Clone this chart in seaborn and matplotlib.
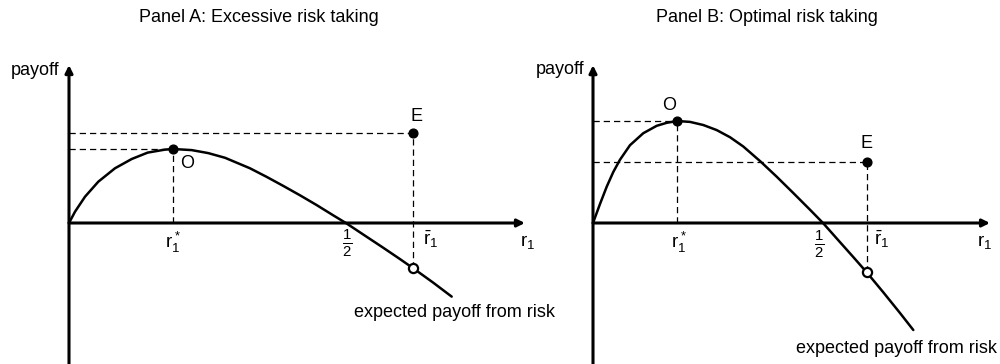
import matplotlib
matplotlib.use('Agg')
import matplotlib.pyplot as plt
import seaborn as sns

# Panel A: curve points (r1, payoff)
a_r = [0, 0.0108, 0.0288, 0.0527, 0.0827, 0.1128, 0.1415, 0.1727, 0.1876, 0.2207, 0.2505, 0.2806,
       0.3255, 0.3556, 0.3854, 0.4155, 0.4455, 0.4754, 0.498, 0.5354, 0.5653, 0.5953, 0.6192, 0.6552, 0.6883]
a_payoff = [0, 0.0203, 0.0473, 0.0743, 0.0984, 0.1151, 0.1266, 0.1320, 0.1331, 0.1311, 0.1257, 0.1173,
            0.0984, 0.0829, 0.0667, 0.0498, 0.0322, 0.0137, 0, -0.0248, -0.0446, -0.0649, -0.0815, -0.1074, -0.1324]
a_opt = [0.1876, 0.1331]    # point O
a_exc = [0.6192, 0.1619]    # point E
a_exc_true = -0.0815        # expected payoff at r1 bar

# Panel B
b_r = [0, 0.0152, 0.0298, 0.0441, 0.0587, 0.0804, 0.1093, 0.1385, 0.1602, 0.1833, 0.2109, 0.2398, 0.2689,
       0.2978, 0.3267, 0.3646, 0.3993, 0.4354, 0.4717, 0.5, 0.5370, 0.5659, 0.5950, 0.6311, 0.6674, 0.6963]
b_payoff = [0, 0.0413, 0.0789, 0.1109, 0.1376, 0.1691, 0.1952, 0.2113, 0.2178, 0.2217, 0.2198, 0.2130, 0.2020,
            0.1865, 0.1663, 0.1333, 0.1007, 0.0652, 0.0289, 0, -0.0417, -0.0741, -0.1072, -0.1507, -0.1957, -0.2326]
b_opt = [0.1833, 0.2217]
b_exc = [0.5950, 0.1333]
b_exc_true = -0.1072

half = 0.5
titles = ['Panel A: Excessive risk taking', 'Panel B: Optimal risk taking']
curve_label = 'expected payoff from risk'

sns.set_theme(style='white')
plt.rcParams['font.family'] = ['Liberation Sans', 'DejaVu Sans']
plt.rcParams['mathtext.fontset'] = 'custom'
plt.rcParams['mathtext.rm'] = 'Liberation Sans'
plt.rcParams['mathtext.it'] = 'Liberation Sans'
plt.rcParams['mathtext.bf'] = 'Liberation Sans:bold'

FS = 13
INK = 'black'
DASH = dict(color=INK, lw=0.9, ls=(0, (5, 3.2)), zorder=1)


def draw_panel(ax, r, payoff, opt, exc, exc_true, lay):
    """
    Draw one panel
    """
    ax.set_xlim(lay['xlim'])
    ax.set_ylim(lay['ylim'])
    ax.axis('off')

    # axes with arrows
    arrow = dict(arrowstyle='-|>', color=INK, lw=2.2, mutation_scale=11, shrinkA=0, shrinkB=0)
    ax.annotate('', xy=(lay['x_end'], 0), xytext=(0, 0), arrowprops=arrow, annotation_clip=False)
    ax.annotate('', xy=(0, lay['y_top']), xytext=(0, lay['ylim'][0] - 0.05), arrowprops=arrow,
                annotation_clip=False)

    # dashed guide lines
    ax.plot([0, opt[0]], [opt[1], opt[1]], **DASH)
    ax.plot([opt[0], opt[0]], [0, opt[1]], **DASH)
    ax.plot([0, exc[0]], [exc[1], exc[1]], **DASH)
    ax.plot([exc[0], exc[0]], [exc_true, exc[1]], **DASH)

    sns.lineplot(x=r, y=payoff, ax=ax, sort=False, estimator=None, color=INK, lw=1.8, zorder=3)

    ax.plot(*opt, 'o', color=INK, ms=6.3, zorder=5)
    ax.plot(*exc, 'o', color=INK, ms=6.3, zorder=5)
    ax.plot(exc[0], exc_true, 'o', mfc='white', mec=INK, mew=1.6, ms=6.6, zorder=5)

    def label(txt, xy, off, size=FS):
        ax.annotate(txt, xy=xy, xytext=off, textcoords='offset pixels', ha='center', va='center',
                    fontsize=size, color=INK, annotation_clip=False)

    label('O', opt, lay['o_off'])
    label('E', exc, lay['e_off'])
    label(r'$r^*_1$', (opt[0], 0), (lay['star_dx'], -19), FS + 0.5)
    label(r'$\frac{1}{2}$', (half, 0), lay['half_off'], FS + 2.5)
    label(r'$\bar{r}_1$', (exc[0], 0), lay['bar_off'], FS + 0.5)
    label(r'$r_1$', (lay['x_end'], 0), lay['r_off'], FS + 0.5)
    label('payoff', (0, lay['y_top']), lay['pay_off'])
    label(curve_label, (r[-1], payoff[-1]), lay['lab_off'])


fig = plt.figure(figsize=(10, 3.64), dpi=100)

# Panel A: origin at pixel (69, 223), 556 px per unit
ax_a = fig.add_axes([0, 0, 0.545, 1])
lay_a = dict(xlim=(-69 / 556, 476 / 556), ylim=(-141 / 556, 223 / 556),
             x_end=0.82, y_top=0.284, o_off=(14, -15), e_off=(3, 16), half_off=(0, -20),
             star_dx=0, bar_off=(17, -16), r_off=(3, -19), pay_off=(-34, -5), lab_off=(3, -16))
draw_panel(ax_a, a_r, a_payoff, a_opt, a_exc, a_exc_true, lay_a)

# Panel B: origin at pixel (593, 223), 460 px per unit
ax_b = fig.add_axes([0.545, 0, 0.455, 1])
lay_b = dict(xlim=(-48 / 460, 407 / 460), ylim=(-141 / 460, 223 / 460),
             x_end=0.863, y_top=0.343, o_off=(-8, 16), e_off=(0, 18), half_off=(-4, -21),
             star_dx=1.5, bar_off=(15, -16), r_off=(-5, -19), pay_off=(-33, -4), lab_off=(-17, -19))
draw_panel(ax_b, b_r, b_payoff, b_opt, b_exc, b_exc_true, lay_b)

fig.text(259 / 1000, 1 - 17 / 364, titles[0], ha='center', va='center', fontsize=FS, color=INK)
fig.text(767 / 1000, 1 - 17 / 364, titles[1], ha='center', va='center', fontsize=FS, color=INK)

fig.savefig('out.png', dpi=100, facecolor='white')
